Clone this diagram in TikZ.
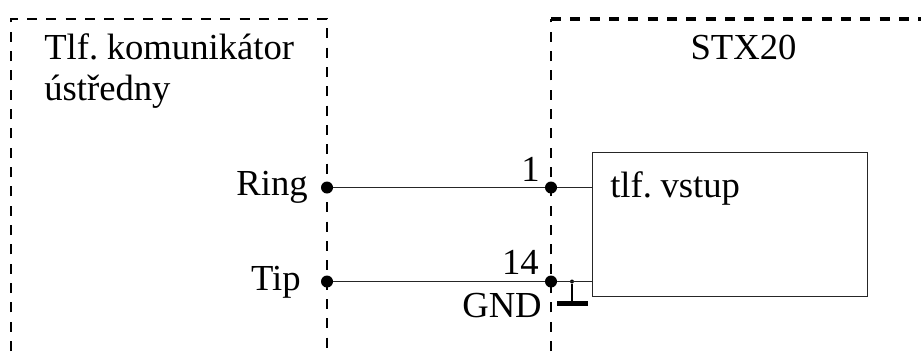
\documentclass[tikz,border=0pt]{standalone}
\usepackage{fontspec}
\setmainfont[WordSpace=0.6]{Liberation Serif}
\tikzset{
	label/.style={inner sep=0pt,font=\fontsize{27.5}{33}\selectfont},
	frame/.style={line width=1.9pt,dash pattern=on 7.5pt off 7pt},
	wire/.style={line width=1pt,color=black!85},
	pin/.style={circle,fill=black,inner sep=0pt,minimum size=9pt},
	tap/.style={circle,fill=black,inner sep=0pt,minimum size=3pt}
}
\begin{document}
\begin{tikzpicture}[x=0.75pt,y=0.75pt,yscale=-1]
	\useasboundingbox (0,0) rectangle (921,351);
	
	% dashed outlines, open at the bottom
	\draw [frame] (11,351) -- (11,19) -- (327,19) -- (327,351);
	\draw [frame,line width=2.3pt] (551,19) -- (921,19);
	\draw [frame] (551,351) -- (551,19);
	
	% input block
	\node [draw,wire,minimum width=206.25pt,minimum height=108pt,anchor=north west,inner sep=0pt] (vstup) at (592,151.5) {};
	
	% terminals
	\node [pin] (ringA) at (327,187.5) {};
	\node [pin] (ringB) at (551,187.5) {};
	\node [pin] (tipA) at (327,281.5) {};
	\node [pin] (tipB) at (551,281.5) {};
	\node [tap] (gndTap) at (572,281.5) {};
	\coordinate (ringEnd) at (592,187.5);
	\coordinate (tipEnd) at (592,281.5);
	\coordinate (gndFoot) at (572,303);
	
	\draw [wire] (ringA) -- (ringB) -- (ringEnd);
	\draw [wire] (tipA) -- (tipB) -- (tipEnd);
	\draw [line width=0.9pt] (gndTap) -- (gndFoot);
	\draw [line width=3.8pt] (557,303.5) -- (588,303.5);
	
	% texts
	\node [label,anchor=base west] (komTitle) at (44,59) {Tlf. komunikátor};
	\node [label,anchor=base west] (komSub) at (44,100) {ústředny};
	\node [label,anchor=base] (stxTitle) at (743.5,59) {STX20};
	\node [label,anchor=base west] (vstupText) at (610,197) {tlf. vstup};
	\node [label,anchor=base east] (ringText) at (308,195) {Ring};
	\node [label,anchor=base east] (tipText) at (301,290) {Tip};
	\node [label,anchor=base east] (pinOne) at (540,181) {1};
	\node [label,anchor=base east] (pinFourteen) at (539,274) {14};
	\node [label,anchor=base east] (gndText) at (542,317) {GND};
\end{tikzpicture}
\end{document}
